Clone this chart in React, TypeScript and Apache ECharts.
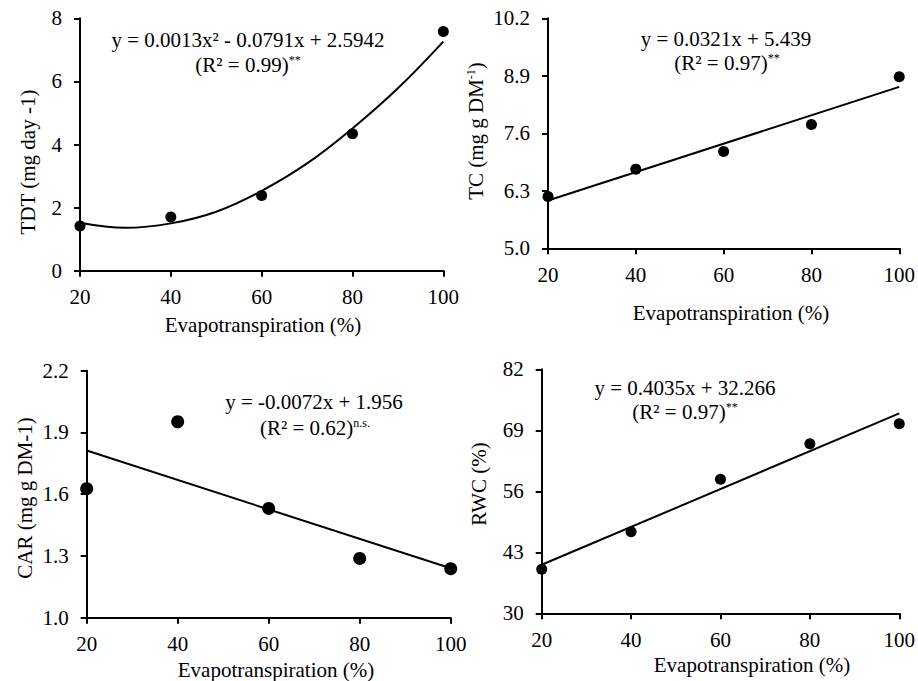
import React, { useEffect, useRef } from "react";
import * as echarts from "echarts";

const etLevels = [20, 40, 60, 80, 100];
const xTicks = [20, 40, 60, 80, 100];

const tdtValues = [1.42, 1.7, 2.38, 4.34, 7.58];
const tdtFitX = [20, 30, 40, 50, 60, 70, 80, 90, 100];
const tdtFitY = [1.52, 1.36, 1.5, 1.87, 2.53, 3.4, 4.51, 5.78, 7.26];
const tdtTicks = [0, 2, 4, 6, 8];

const tcValues = [6.17, 6.79, 7.19, 7.8, 8.88];
const tcFitX = [20, 100];
const tcFitY = [6.08, 8.65];
const tcTicks = [5.0, 6.3, 7.6, 8.9, 10.2];

const carValues = [1.627, 1.952, 1.531, 1.288, 1.238];
const carFitX = [20, 100];
const carFitY = [1.812, 1.24];
const carTicks = [1.0, 1.3, 1.6, 1.9, 2.2];

const rwcValues = [39.4, 47.4, 58.55, 66.15, 70.4];
const rwcFitX = [20, 100];
const rwcFitY = [40.34, 72.62];
const rwcTicks = [30, 43, 56, 69, 82];

const FONT = "Liberation Serif";
const FS = 21;

const grids = [
  { left: 80, top: 18.3, width: 363.3, height: 252.4 },
  { left: 548, top: 18.3, width: 351.7, height: 230 },
  { left: 86.7, top: 370.7, width: 364, height: 247 },
  { left: 541.7, top: 369.3, width: 358.6, height: 244 },
];

const yTickSets = [tdtTicks, tcTicks, carTicks, rwcTicks];
const yDecimals = [0, 1, 1, 0];

function pairs(xs: number[], ys: number[]) {
  return xs.map((x, i) => [x, ys[i]]);
}

function richText(x: number, y: number, text: string, rotate = false) {
  return {
    type: "text",
    x,
    y,
    rotation: rotate ? Math.PI / 2 : 0,
    style: {
      text,
      align: "center",
      verticalAlign: "middle",
      fill: "#000",
      fontFamily: FONT,
      fontSize: FS,
      rich: {
        n: { fontFamily: FONT, fontSize: FS, lineHeight: 22, fill: "#000" },
        s: { fontFamily: FONT, fontSize: 12, lineHeight: 12, verticalAlign: "top", fill: "#000" },
      },
    },
  };
}

export default function App() {
  const ref = useRef<HTMLDivElement>(null);
  useEffect(() => {
    document.body.style.margin = "0";
    const chart = echarts.init(ref.current!, null, { renderer: "svg" });

    const xAxes = grids.map((_, i) => ({
      type: "value",
      gridIndex: i,
      min: 20,
      max: 100,
      interval: 20,
      axisLine: { show: true, onZero: false, lineStyle: { color: "#000", width: 2 } },
      axisTick: { show: true, length: 6, lineStyle: { color: "#000", width: 2 }, customValues: xTicks },
      axisLabel: { color: "#000", fontSize: FS, fontFamily: FONT, margin: 16, customValues: xTicks },
      splitLine: { show: false },
    }));

    const yAxes = grids.map((_, i) => {
      const ticks = yTickSets[i];
      return {
        type: "value",
        gridIndex: i,
        min: ticks[0],
        max: ticks[ticks.length - 1],
        axisLine: { show: true, onZero: false, lineStyle: { color: "#000", width: 2 } },
        axisTick: { show: true, length: 6, lineStyle: { color: "#000", width: 2 }, customValues: ticks },
        axisLabel: {
          color: "#000",
          fontSize: FS,
          fontFamily: FONT,
          margin: 18,
          customValues: ticks,
          formatter: (v: number) => v.toFixed(yDecimals[i]),
        },
        splitLine: { show: false },
      };
    });

    const scatterSets = [tdtValues, tcValues, carValues, rwcValues];
    const sizes = [11, 11, 13, 11];
    const fits = [
      pairs(tdtFitX, tdtFitY),
      pairs(tcFitX, tcFitY),
      pairs(carFitX, carFitY),
      pairs(rwcFitX, rwcFitY),
    ];

    const series: any[] = [];
    fits.forEach((f, i) => {
      series.push({
        type: "line",
        xAxisIndex: i,
        yAxisIndex: i,
        data: f,
        smooth: i === 0 ? 0.4 : false,
        symbol: "none",
        clip: false,
        lineStyle: { color: "#000", width: 2 },
        z: 2,
      });
    });
    scatterSets.forEach((vals, i) => {
      series.push({
        type: "scatter",
        xAxisIndex: i,
        yAxisIndex: i,
        data: pairs(etLevels, vals),
        symbol: "circle",
        symbolSize: sizes[i],
        clip: false,
        itemStyle: { color: "#000", opacity: 1 },
        z: 3,
      });
    });

    const graphic = [
      richText(248, 40, "{n|y = 0.0013x² - 0.0791x + 2.5942}"),
      richText(248, 65, "{n|(R² = 0.99)}{s|**}"),
      richText(726, 39, "{n|y = 0.0321x + 5.439}"),
      richText(727, 63, "{n|(R² = 0.97)}{s|**}"),
      richText(314, 402, "{n|y = -0.0072x + 1.956}"),
      richText(315, 428, "{n|(R² = 0.62)}{s|n.s.}"),
      richText(685, 388, "{n|y = 0.4035x + 32.266}"),
      richText(685, 412, "{n|(R² = 0.97)}{s|**}"),
      richText(28, 162, "{n|TDT (mg day -1)}", true),
      richText(476, 131, "{n|TC (mg g DM}{s|-1}{n|)}", true),
      richText(25, 498, "{n|CAR (mg g DM-1)}", true),
      richText(479, 484, "{n|RWC (%)}", true),
      richText(263, 325, "{n|Evapotranspiration (%)}"),
      richText(731, 313, "{n|Evapotranspiration (%)}"),
      richText(276, 670, "{n|Evapotranspiration (%)}"),
      richText(752, 665, "{n|Evapotranspiration (%)}"),
    ];

    chart.setOption({
      animation: false,
      backgroundColor: "#fff",
      grid: grids,
      xAxis: xAxes,
      yAxis: yAxes,
      series,
      graphic,
    });
    return () => chart.dispose();
  }, []);
  return <div ref={ref} style={{ width: 918, height: 681 }} />;
}
